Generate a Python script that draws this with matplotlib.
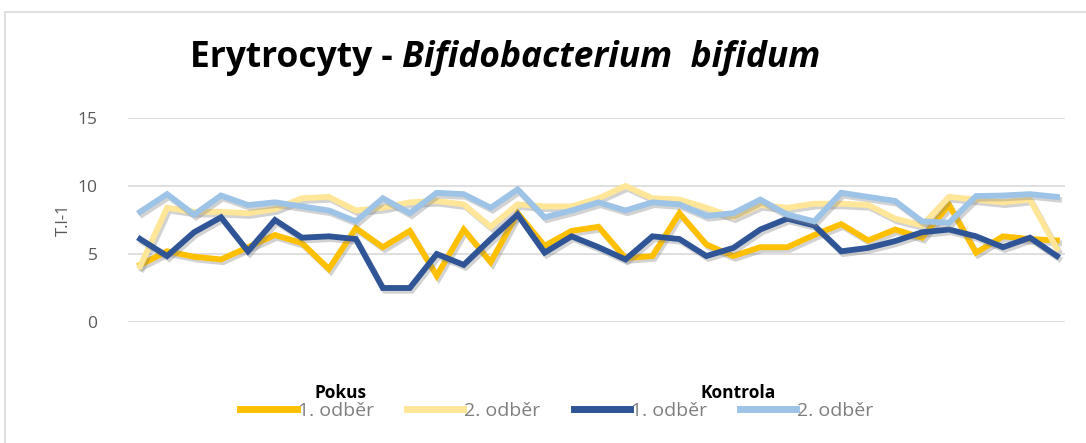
import numpy as np
import matplotlib

matplotlib.use("Agg")
import matplotlib.pyplot as plt
import matplotlib.patheffects as pe
from matplotlib.patches import Rectangle

# values (35 samples per series)
pokus_1 = [4.2, 5.2, 4.8, 4.6, 5.5, 6.4, 5.8, 3.9, 6.9, 5.5, 6.7, 3.4, 6.8, 4.4, 8.0, 5.6, 6.7, 7.0,
           4.7, 4.85, 8.0, 5.7, 4.85, 5.5, 5.5, 6.4, 7.2, 6.0, 6.8, 6.2, 8.6, 5.1, 6.3, 6.1, 6.0]
pokus_2 = [4.1, 8.4, 8.1, 8.1, 8.0, 8.3, 9.1, 9.2, 8.2, 8.4, 8.8, 8.9, 8.65, 7.0, 8.65, 8.5, 8.5, 9.1,
           10.0, 9.1, 9.0, 8.4, 7.7, 8.6, 8.4, 8.7, 8.7, 8.6, 7.6, 7.1, 9.2, 9.0, 8.8, 9.0, 5.4]
kontrola_1 = [6.1, 4.85, 6.6, 7.7, 5.2, 7.5, 6.2, 6.3, 6.1, 2.5, 2.5, 5.0, 4.2, 6.1, 7.9, 5.1, 6.3, 5.5,
              4.6, 6.3, 6.1, 4.85, 5.45, 6.8, 7.6, 7.1, 5.2, 5.45, 5.95, 6.6, 6.8, 6.3, 5.5, 6.2, 4.85]
kontrola_2 = [8.1, 9.4, 7.9, 9.3, 8.6, 8.8, 8.5, 8.2, 7.4, 9.1, 8.0, 9.5, 9.4, 8.4, 9.75, 7.7, 8.2, 8.8,
              8.2, 8.8, 8.65, 7.8, 8.0, 9.0, 7.9, 7.4, 9.5, 9.2, 8.9, 7.4, 7.3, 9.26, 9.3, 9.4, 9.2]

series = [
    (pokus_1, "#FFC000", "1. odběr"),
    (pokus_2, "#FFE699", "2. odběr"),
    (kontrola_1, "#2F5597", "1. odběr"),
    (kontrola_2, "#9DC3E6", "2. odběr"),
]
yticks = [0, 5, 10, 15]

plt.rcParams["font.family"] = ["Open Sans", "DejaVu Sans"]

fig = plt.figure(figsize=(10.86, 4.43), dpi=100)
fig.patches.append(Rectangle((5 / 1086, -0.01), 1.02, 1 - 12 / 443 + 0.01, transform=fig.transFigure,
                             fill=False, edgecolor="#d9d9d9", linewidth=1.2))

ax = fig.add_axes([128 / 1086, 121 / 443, 937 / 1086, 204 / 443])
x = np.arange(len(pokus_1))
shadow = [pe.SimpleLineShadow(offset=(1.5, -2), shadow_color="gray", alpha=0.35), pe.Normal()]
handles = []
for vals, col, lab in series:
    ln, = ax.plot(x, vals, color=col, lw=4.2, solid_joinstyle="miter", path_effects=shadow, label=lab)
    handles.append(ln)

ax.set_xlim(-0.45, 34.3)
ax.set_ylim(0, 15)
ax.set_yticks(yticks)
ax.set_xticks([])
ax.grid(axis="y", color="#d9d9d9", lw=1.2)
ax.set_axisbelow(True)
for s in ax.spines.values():
    s.set_visible(False)
ax.tick_params(axis="y", length=0, pad=22, labelsize=12.5, labelcolor="#595959")
ax.set_ylabel("T.l-1", color="#595959", fontsize=12, labelpad=4)

t1 = fig.text(190 / 1086, 1 - 58 / 443, "Erytrocyty - ", fontsize=25.5, fontweight="bold",
              va="center", ha="left")
ax.annotate("Bifidobacterium  bifidum", xy=(1, 0.5), xycoords=t1, va="center", ha="left",
            fontsize=25.5, fontweight="bold", style="italic", annotation_clip=False)

leg = fig.legend(handles=handles, loc="center", bbox_to_anchor=(557 / 1086, 1 - 411 / 443), ncol=4,
                 frameon=False, fontsize=14, handlelength=2.9, handletextpad=0.05, columnspacing=1.7,
                 labelcolor="#7f7f7f")
for h in leg.legend_handles:
    h.set_linewidth(5)
    h.set_path_effects([])

fig.text(340 / 1086, 1 - 393 / 443, "Pokus", fontsize=12.5, fontweight="bold", ha="center", va="center")
fig.text(738 / 1086, 1 - 393 / 443, "Kontrola", fontsize=12.5, fontweight="bold", ha="center", va="center")

fig.savefig("out.png", dpi=100)
